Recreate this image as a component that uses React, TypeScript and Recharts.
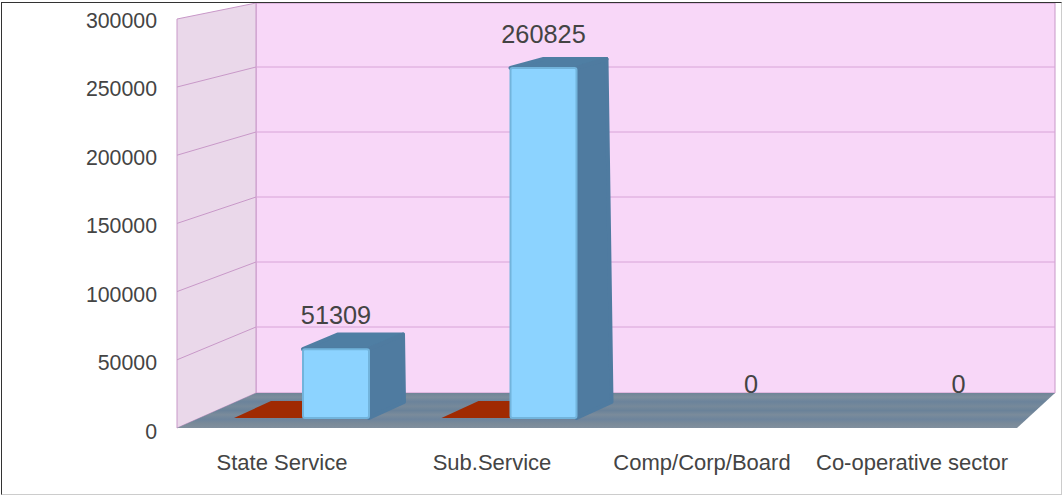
import { BarChart, Bar, XAxis, YAxis, LabelList } from "recharts";

const categories = ["State Service", "Sub.Service", "Comp/Corp/Board", "Co-operative sector"];
const redValues = [0, 0, null, null];
const blueValues = [51309, 260825, 0, 0];
const yTicks = [0, 50000, 100000, 150000, 200000, 250000, 300000];

const data = categories.map((name, i) => ({
  name,
  red: redValues[i],
  blue: blueValues[i],
}));

const FONT = '"Liberation Sans", Arial, sans-serif';
const TEXT = "#444444";

function Walls() {
  const front = yTicks.map((_, i) => 428 - i * 68.2);
  const back = yTicks.map((_, i) => 392 - i * 65);
  return (
    <g>
      <defs>
        <linearGradient id="floorStreaks" x1="0" y1="0" x2="0" y2="1">
          <stop offset="0" stopColor="#6f8497" />
          <stop offset="0.12" stopColor="#7c8d9c" />
          <stop offset="0.25" stopColor="#6b839b" />
          <stop offset="0.38" stopColor="#76899a" />
          <stop offset="0.5" stopColor="#6a8299" />
          <stop offset="0.62" stopColor="#7a8b9b" />
          <stop offset="0.75" stopColor="#6d849c" />
          <stop offset="0.88" stopColor="#7a8a99" />
          <stop offset="1" stopColor="#808f9e" />
        </linearGradient>
      </defs>
      <polygon points="256,3 1055,3 1055,393 256,393" fill="#f8d7f8" stroke="#c898c8" strokeWidth={1} />
      <polygon points="177,19 256,3 256,393 177,428" fill="#ead8ea" stroke="#c898c8" strokeWidth={1} />
      {back.slice(1, 6).map((y) => (
        <line key={y} x1={256} x2={1055} y1={y} y2={y} stroke="#d8a4d8" strokeWidth={1} />
      ))}
      {back.slice(1, 6).map((y, i) => (
        <line key={y} x1={177} x2={256} y1={front[i + 1]} y2={y} stroke="#c898c8" strokeWidth={1} />
      ))}
      <polygon points="177,428 256,393 1055,393 1017,428" fill="url(#floorStreaks)" />
    </g>
  );
}

function RedBox(props: any) {
  const { x, y, width, value } = props;
  if (value == null) return null;
  const points = [
    [x - 3, y],
    [x + width, y],
    [x + width + 35, y - 17],
    [x + 34, y - 17],
  ];
  return <polygon points={points.map((p) => p.join(",")).join(" ")} fill="#a02a02" />;
}

// the depth shrinks towards the top of the chart, as in a perspective view
function BlueBox(props: any) {
  const { x, y, width, height } = props;
  if (!height || height <= 0) return null;
  const r = x + width;
  const b = y + height;
  const frac = height / 350;
  const dy = 16 - 7 * frac;
  const dxLeft = 35 - 2 * frac;
  const dxRight = 35 - 5 * frac;
  const top = `${x},${y} ${r},${y} ${r + dxRight},${y - dy} ${x + dxLeft},${y - dy}`;
  const side = `${r},${y} ${r + dxRight},${y - dy} ${r + 35},${b - 16} ${r},${b}`;
  return (
    <g>
      <polygon points={top} fill="#4f7ea3" stroke="#4f7ea3" strokeWidth={4} strokeLinejoin="round" />
      <polygon points={side} fill="#4f7ba0" stroke="#4f7ba0" strokeWidth={4} strokeLinejoin="round" />
      <rect x={x} y={y} width={width} height={height} rx={2} fill="#8cd3ff" stroke="#72b4dc" strokeWidth={2} />
    </g>
  );
}

export default function App() {
  return (
    <div
      style={{
        position: "absolute",
        left: 0,
        top: 0,
        width: 1063,
        height: 495,
        background: "#fff",
      }}
    >
      <BarChart
        width={1063}
        height={495}
        data={data}
        barSize={66}
        barGap={0}
        margin={{ top: 20, right: 8, bottom: 0, left: 0 }}
      >
        <Walls />
        <XAxis
          xAxisId="labels"
          dataKey="name"
          height={64}
          padding={{ left: 0, right: 38 }}
          axisLine={false}
          tickLine={false}
          interval={0}
          tickMargin={17}
          tick={{ fill: TEXT, fontSize: 22, fontFamily: FONT }}
        />
        <XAxis xAxisId="bars" dataKey="name" hide height={0} padding={{ left: 22, right: 26 }} />
        <YAxis
          yAxisId="labels"
          width={177}
          domain={[0, 300000]}
          ticks={yTicks}
          axisLine={false}
          tickLine={false}
          tickMargin={14}
          interval={0}
          tick={{ fill: TEXT, fontSize: 21.3, fontFamily: FONT }}
        />
        <YAxis yAxisId="bars" hide width={0} domain={[-9688, 296594]} allowDataOverflow />
        {/* keeps the labelled axes attached to a series; it draws nothing */}
        <Bar
          dataKey="blue"
          xAxisId="labels"
          yAxisId="labels"
          shape={() => null}
          isAnimationActive={false}
        />
        <Bar
          dataKey="red"
          xAxisId="bars"
          yAxisId="bars"
          shape={<RedBox />}
          isAnimationActive={false}
        />
        <Bar
          dataKey="blue"
          xAxisId="bars"
          yAxisId="bars"
          shape={<BlueBox />}
          isAnimationActive={false}
        >
          <LabelList
            dataKey="blue"
            position="top"
            offset={25}
            fill={TEXT}
            fontSize={25.3}
            fontFamily={FONT}
          />
        </Bar>
      </BarChart>
      <div
        style={{
          position: "absolute",
          left: 1,
          top: 2,
          right: 1,
          bottom: 0,
          boxSizing: "border-box",
          pointerEvents: "none",
          borderTop: "1px solid #333",
          borderLeft: "1px solid #333",
          borderRight: "1px solid #ccc",
          borderBottom: "1px solid #ccc",
        }}
      />
    </div>
  );
}
